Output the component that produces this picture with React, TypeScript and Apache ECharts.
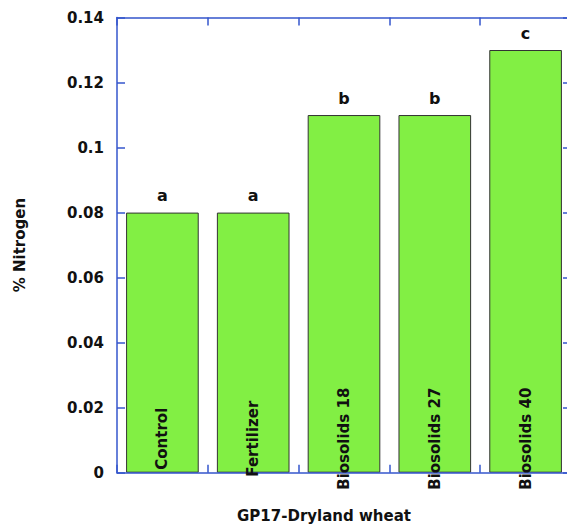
import React, { useEffect, useRef } from "react";
import * as echarts from "echarts";

const categories = ["Control", "Fertilizer", "Biosolids 18", "Biosolids 27", "Biosolids 40"];
const nitrogenValues = [0.08, 0.08, 0.11, 0.11, 0.13];
const significanceLetters = ["a", "a", "b", "b", "c"];
const yTickMin = 0;
const yTickMax = 0.14;
const yTickInterval = 0.02;
const xTitle = "GP17-Dryland wheat";
const yTitle = "% Nitrogen";

const AXIS_BLUE = "#3456CC";
const FONT = "DejaVu Sans";

export default function App() {
  const ref = useRef<HTMLDivElement>(null);
  useEffect(() => {
    if (!ref.current) return;
    const chart = echarts.init(ref.current, undefined, { renderer: "svg" });
    const axisLine = { show: true, onZero: false, lineStyle: { color: AXIS_BLUE, width: 1.5 } };
    const tick = { show: true, inside: true, length: 8, lineStyle: { color: AXIS_BLUE, width: 1.5 } };
    chart.setOption({
      animation: false,
      backgroundColor: "#ffffff",
      grid: {
        left: 117,
        top: 17.5,
        right: -4,
        bottom: 56.3,
        containLabel: false,
        outerBoundsMode: "none",
      },
      xAxis: [
        {
          type: "category",
          data: categories,
          position: "bottom",
          z: 10,
          axisLine,
          axisTick: tick,
          axisLabel: {
            show: true,
            rotate: 90,
            margin: -34,
            align: "center",
            verticalAlign: "middle",
            fontFamily: FONT,
            fontWeight: "bold",
            fontSize: 15,
            color: "#111",
          },
          splitLine: { show: false },
        },
        {
          type: "category",
          data: categories,
          position: "top",
          z: 10,
          axisLine,
          axisTick: tick,
          axisLabel: { show: false },
          splitLine: { show: false },
        },
      ],
      yAxis: [
        {
          type: "value",
          min: yTickMin,
          max: yTickMax,
          interval: yTickInterval,
          position: "left",
          z: 10,
          name: yTitle,
          nameLocation: "middle",
          nameGap: 90,
          nameTextStyle: { fontFamily: FONT, fontWeight: "bold", fontSize: 15, color: "#111" },
          axisLine,
          axisTick: tick,
          axisLabel: { margin: 13, fontFamily: FONT, fontWeight: "bold", fontSize: 15, color: "#111" },
          splitLine: { show: false },
        },
        {
          type: "value",
          min: yTickMin,
          max: yTickMax,
          interval: yTickInterval,
          position: "right",
          z: 10,
          axisLine,
          axisTick: tick,
          axisLabel: { show: false },
          splitLine: { show: false },
        },
      ],
      graphic: [
        {
          type: "text",
          x: 324,
          y: 516,
          style: {
            text: xTitle,
            fontFamily: FONT,
            fontWeight: "bold",
            fontSize: 15,
            fill: "#111",
            align: "center",
            verticalAlign: "middle",
          },
        },
      ],
      series: [
        {
          type: "bar",
          xAxisIndex: 0,
          yAxisIndex: 0,
          data: nitrogenValues,
          barCategoryGap: "20%",
          itemStyle: { color: "#82EF44", borderColor: "#333333", borderWidth: 1 },
          label: {
            show: true,
            position: "top",
            distance: 9,
            formatter: (p: any) => significanceLetters[p.dataIndex],
            fontFamily: FONT,
            fontWeight: "bold",
            fontSize: 16,
            color: "#111",
          },
          z: 1,
        },
      ],
    });
    return () => chart.dispose();
  }, []);
  return (
    <div
      ref={ref}
      style={{ position: "fixed", left: 0, top: 0, width: 567, height: 529 }}
    />
  );
}
